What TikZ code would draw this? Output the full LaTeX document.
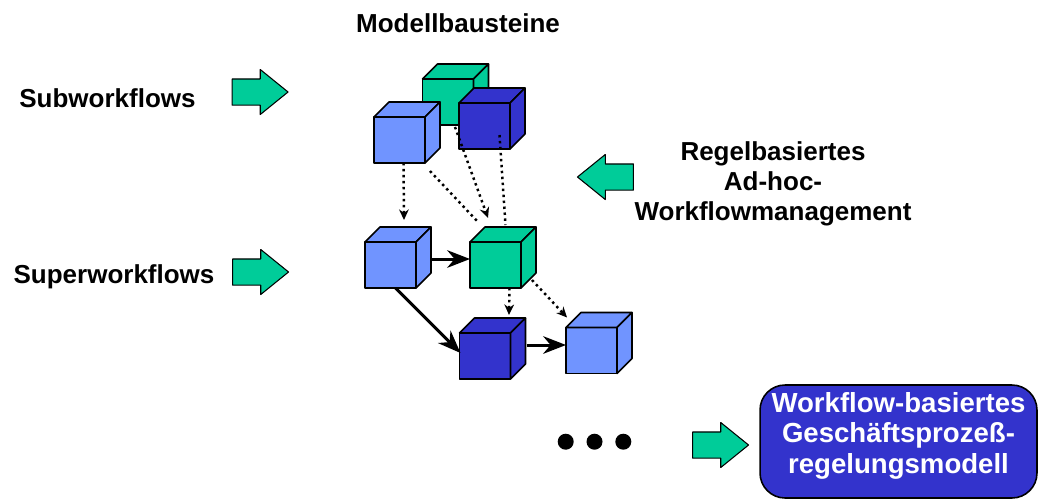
\documentclass[tikz,border=0pt]{standalone}
\usepackage{fontspec}
\setmainfont{Liberation Sans}
\usepackage{tikz}
\usetikzlibrary{arrows, arrows.meta, positioning, shapes.arrows}
\usepackage{xcolor}

\definecolor{modblue}{HTML}{7094FF}
\definecolor{moddark}{HTML}{3333CC}
\definecolor{modgreen}{HTML}{00CC99}

% one building block: front face is the node, top and side are drawn on it
\newcommand{\modcube}[4]{%
  \node[face, fill=#4] (#1) at (#2,#3) {};
  \draw[face, fill=#4] (#1.north west) -- ++(15,-15) -- ([shift={(15,-15)}]#1.north east) -- (#1.north east) -- cycle;
  \draw[face, fill=#4] (#1.north east) -- ([shift={(15,-15)}]#1.north east) -- ([shift={(15,-15)}]#1.south east) -- (#1.south east) -- cycle;
}

\begin{document}
\begin{tikzpicture}[x=0.02cm,y=-0.02cm,line join=round]
    \tikzstyle{face}=[shape=rectangle,draw,line width=0.9pt,minimum width=1.02cm,minimum height=0.92cm,inner sep=0pt,outer sep=0pt]
    \tikzstyle{push}=[shape=single arrow,draw,fill=modgreen,line width=0.6pt,minimum height=1.12cm,minimum width=0.88cm,single arrow head extend=0.19cm,single arrow tip angle=78,inner xsep=0pt,inner ysep=0.25cm]
    \tikzstyle{txt}=[font=\fontsize{14.8}{17}\selectfont\bfseries,inner sep=0pt]
    \tikzstyle{dep}=[dotted,line width=1.4pt]
    \tikzstyle{flow}=[line width=1.7pt,-{Stealth[length=13pt,width=10pt]}]

    \useasboundingbox (0,0) rectangle (1040,501);

    \modcube{T1}{448}{102}{modgreen}
    \modcube{T2}{399.5}{140}{modblue}
    \modcube{T3}{484.5}{126}{moddark}
    \modcube{M1}{390.5}{265}{modblue}
    \modcube{M2}{495.5}{265}{modgreen}
    \modcube{B1}{485}{356}{moddark}
    \modcube{B2}{591.5}{350.5}{modblue}

    \node[txt,anchor=base] (mod) at (458,32) {Modellbausteine};
    \node[txt,anchor=base] (sub) at (107.5,107) {Subworkflows};
    \node[txt,anchor=base] (sup) at (114,283) {Superworkflows};
    \node[txt,align=center] (adhoc) at (773,184) {Regelbasiertes\\Ad-hoc-\\Workflowmanagement};

    \node[push] (P1) at (252,92) {};
    \node[push] (P2) at (252.5,272) {};
    \node[push,shape border rotate=180] (P3) at (613.5,177) {};
    \node[push] (P4) at (712.5,445) {};

    \foreach \i/\x in {1/565.7,2/594.5,3/623.3}
        \node[circle,fill=black,minimum size=0.32cm,inner sep=0pt] (D\i) at (\x,441.7) {};

    \node[txt,font=\fontsize{15.7}{17.4}\selectfont\bfseries,draw,fill=moddark,text=white,rounded corners=0.5cm,line width=0.9pt,minimum width=5.54cm,minimum height=2.26cm,align=center,text depth=10pt] (R) at (898.5,441.5) {Workflow-basiertes\\Geschäftsprozeß-\\regelungsmodell};

    \path[dep,-{Stealth[length=6pt,width=5.5pt]}]
    ([shift={(4,0)}]T2.south) edge ([shift={(13.5,-22)}]M1.north)
    ([shift={(7,2)}]T1.south) edge ([shift={(18,-24)}]M2.north west)
    ([shift={(14,0)}]M2.south) edge ([shift={(24,-18)}]B1.north)
    ([shift={(11,-8)}]M2.south east) edge ([shift={(1,-10)}]B2.north west)
    ;
    \path[dep]
    ([shift={(5,8)}]T2.south east) edge ([shift={(8,-20)}]M2.north west)
    ([shift={(15,9)}]T3.center) edge ([shift={(10,-17)}]M2.north)
    ;
    \path[flow]
    ([shift={(16,-6)}]M1.east) edge ([shift={(0,-6)}]M2.west)
    ([shift={(5,0)}]M1.south) edge ([shift={(1,-3)}]B1.west)
    ([shift={(16,-11)}]B1.east) edge ([shift={(0,-5.5)}]B2.west)
    ;
\end{tikzpicture}
\end{document}
